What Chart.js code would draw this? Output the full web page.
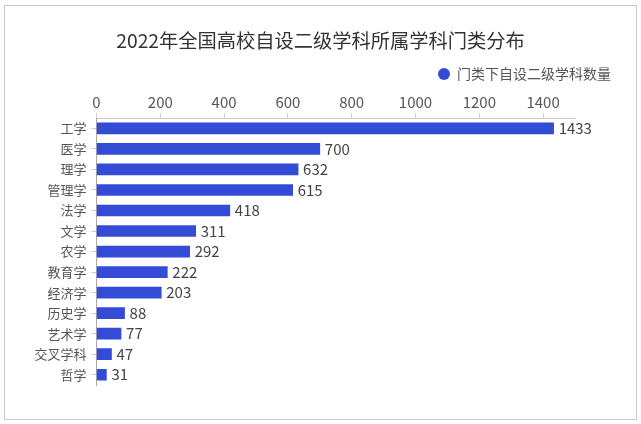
<!DOCTYPE html>
<html>
<head>
<meta charset="utf-8">
<title>2022年全国高校自设二级学科所属学科门类分布</title>
<script src="https://cdn.jsdelivr.net/npm/chart.js@4"></script>
<style>
  html, body { margin: 0; padding: 0; background: #fff; }
  #frame { position: absolute; left: 4px; top: 5px; width: 631px; height: 413px; border: 1px solid #c8c8c8; }
  #wrap { position: absolute; left: 0; top: 0; width: 641px; height: 424px; }
</style>
</head>
<body>
<div id="frame"></div>
<div id="wrap"><canvas id="chart" width="641" height="424"></canvas></div>
<script>
const categories = ['工学', '医学', '理学', '管理学', '法学', '文学', '农学', '教育学', '经济学', '历史学', '艺术学', '交叉学科', '哲学'];
const counts = [1433, 700, 632, 615, 418, 311, 292, 222, 203, 88, 77, 47, 31];
const xTicks = [0, 200, 400, 600, 800, 1000, 1200, 1400];
const seriesName = '门类下自设二级学科数量';
const chartTitle = '2022年全国高校自设二级学科所属学科门类分布';

const fontFamily = '"Noto Sans CJK SC", "Noto Sans", sans-serif';

// 柱子右侧的数值
const valueLabels = {
  id: 'valueLabels',
  afterDatasetsDraw(chart) {
    const ctx = chart.ctx;
    ctx.save();
    ctx.font = '15px ' + fontFamily;
    ctx.fillStyle = '#444';
    ctx.textAlign = 'left';
    ctx.textBaseline = 'middle';
    chart.getDatasetMeta(0).data.forEach((bar, i) => {
      ctx.fillText(counts[i], bar.x + 5, bar.y);
    });
    ctx.restore();
  }
};

// 标题和图例不跟随坐标轴的右边距
const shiftHeader = {
  id: 'shiftHeader',
  afterLayout(chart) {
    chart.titleBlock.left += 33;
    chart.titleBlock.right += 33;
    chart.legend.left += 42;
    chart.legend.right += 42;
  }
};

new Chart(document.getElementById('chart'), {
  type: 'bar',
  data: {
    labels: categories,
    datasets: [{
      label: seriesName,
      data: counts,
      backgroundColor: '#344bd6',
      barThickness: 11
    }]
  },
  plugins: [valueLabels, shiftHeader],
  options: {
    indexAxis: 'y',
    responsive: false,
    animation: false,
    layout: { padding: { left: 0, right: 66, top: 0, bottom: 39 } },
    plugins: {
      title: {
        display: true,
        text: chartTitle,
        color: '#333',
        font: { family: fontFamily, size: 19.25, weight: 'normal' },
        padding: { top: 29, bottom: 9 }
      },
      legend: {
        position: 'top',
        align: 'end',
        labels: {
          usePointStyle: true,
          pointStyle: 'circle',
          pointStyleWidth: 12,
          boxHeight: 8.5,
          color: '#555',
          font: { family: fontFamily, size: 14 },
          padding: 6
        }
      },
      tooltip: { enabled: false }
    },
    scales: {
      x: {
        position: 'top',
        min: 0,
        max: 1500,
        afterBuildTicks(axis) {
          axis.ticks = xTicks.map(value => ({ value }));
        },
        afterFit(axis) { axis.height = 27; },
        ticks: {
          color: '#555',
          font: { family: fontFamily, size: 15 },
          maxRotation: 0,
          autoSkip: false,
          padding: 2,
          callback: value => String(value)
        },
        grid: { drawOnChartArea: false, color: '#ccc', tickLength: 5 },
        border: { color: '#ccc' }
      },
      y: {
        afterFit(axis) { axis.width = 96.5; },
        ticks: {
          color: '#555',
          font: { family: fontFamily, size: 13 },
          padding: 5,
          autoSkip: false
        },
        grid: { drawOnChartArea: false, color: '#ccc', tickLength: 5, offset: false },
        border: { color: '#aaa' }
      }
    }
  }
});
</script>
</body>
</html>
